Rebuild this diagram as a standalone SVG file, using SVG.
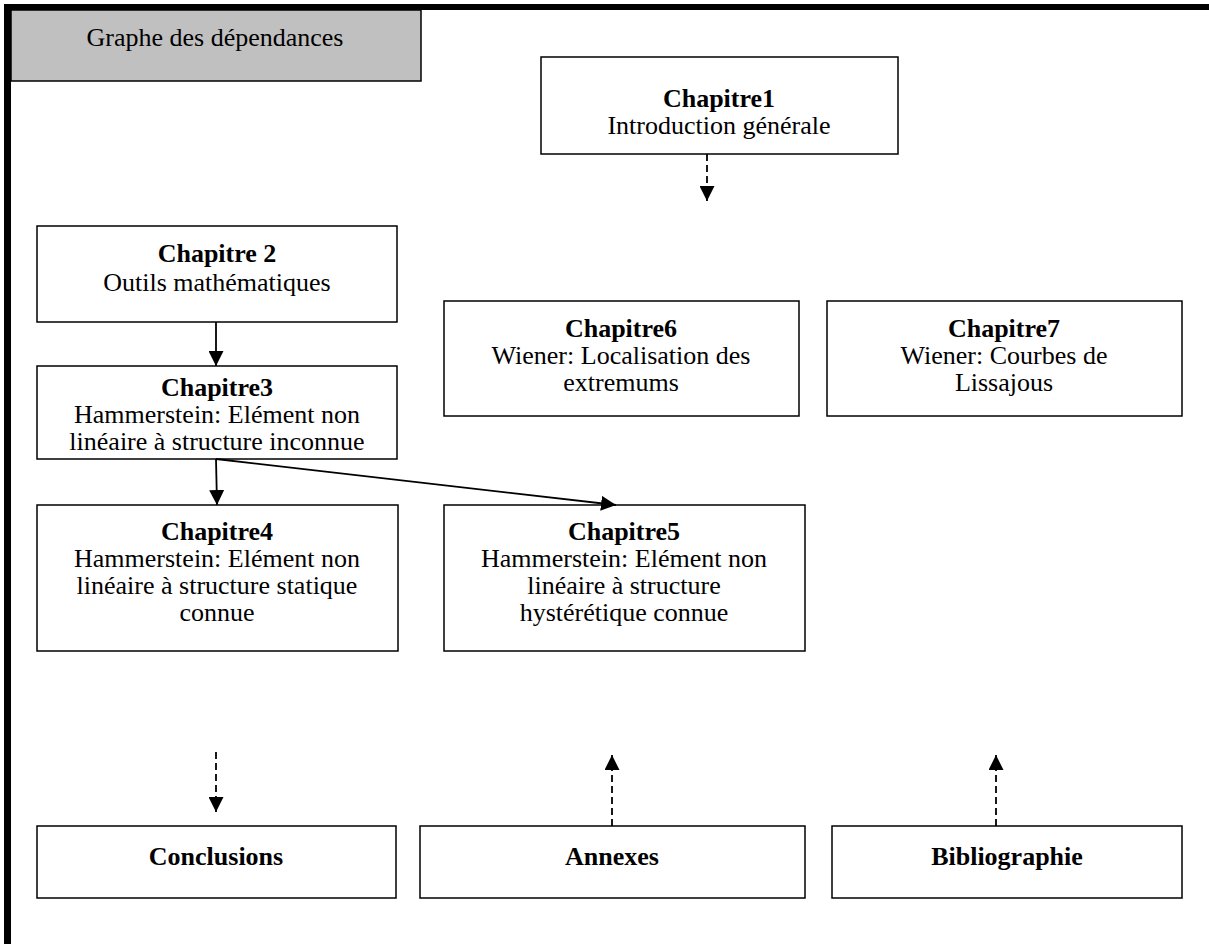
<svg xmlns="http://www.w3.org/2000/svg" width="1209" height="944" viewBox="0 0 1209 944">
<style>
.box{fill:#fff;stroke:#000;stroke-width:1.5}
.t{font-family:"Liberation Serif","Times New Roman",serif;font-size:26px;fill:#000;text-anchor:middle}
.b{font-weight:bold}
.c{stroke:#000;stroke-width:1.8;fill:none}
.d{stroke-dasharray:7 4}
</style>
<defs>
<marker id="ah" viewBox="0 0 10 10" refX="10" refY="5" markerWidth="15" markerHeight="15" markerUnits="userSpaceOnUse" orient="auto">
<path d="M0,0 L10,5 L0,10 z" fill="#000"/>
</marker>
</defs>
<rect x="0" y="0" width="1209" height="944" fill="#fff"/>
<g id="frame">
<rect x="4" y="4" width="1205" height="6" fill="#000"/>
<rect x="4" y="4" width="7" height="940" fill="#000"/>
</g>
<g id="tab">
<rect x="11" y="10" width="410" height="71" fill="#c0c0c0" stroke="#000" stroke-width="1.5"/>
<text class="t" x="215" y="46">Graphe des dépendances</text>
</g>
<g id="ch1">
<rect class="box" x="541" y="57" width="357" height="97"/>
<text class="t b" x="719" y="107">Chapitre1</text>
<text class="t" x="719" y="134">Introduction générale</text>
</g>
<g id="ch2">
<rect class="box" x="37" y="226" width="360" height="96"/>
<text class="t b" x="217" y="262">Chapitre 2</text>
<text class="t" x="217" y="291">Outils mathématiques</text>
</g>
<g id="ch6">
<rect class="box" x="444" y="301" width="355" height="115"/>
<text class="t b" x="621" y="337">Chapitre6</text>
<text class="t" x="621" y="364">Wiener: Localisation des</text>
<text class="t" x="621" y="391">extremums</text>
</g>
<g id="ch7">
<rect class="box" x="827" y="301" width="355" height="115"/>
<text class="t b" x="1004" y="337">Chapitre7</text>
<text class="t" x="1004" y="364">Wiener: Courbes de</text>
<text class="t" x="1004" y="391">Lissajous</text>
</g>
<g id="ch3">
<rect class="box" x="37" y="366" width="360" height="93"/>
<text class="t b" x="217" y="396">Chapitre3</text>
<text class="t" x="217" y="423">Hammerstein: Elément non</text>
<text class="t" x="217" y="450">linéaire à structure inconnue</text>
</g>
<g id="ch4">
<rect class="box" x="37" y="505" width="361" height="146"/>
<text class="t b" x="217" y="540">Chapitre4</text>
<text class="t" x="217" y="567">Hammerstein: Elément non</text>
<text class="t" x="217" y="594">linéaire à structure statique</text>
<text class="t" x="217" y="621">connue</text>
</g>
<g id="ch5">
<rect class="box" x="444" y="505" width="361" height="146"/>
<text class="t b" x="624" y="540">Chapitre5</text>
<text class="t" x="624" y="567">Hammerstein: Elément non</text>
<text class="t" x="624" y="594">linéaire à structure</text>
<text class="t" x="624" y="621">hystérétique connue</text>
</g>
<g id="conclusions">
<rect class="box" x="37" y="826" width="359" height="72"/>
<text class="t b" x="216" y="865">Conclusions</text>
</g>
<g id="annexes">
<rect class="box" x="420" y="826" width="385" height="72"/>
<text class="t b" x="612" y="865">Annexes</text>
</g>
<g id="bibliographie">
<rect class="box" x="832" y="826" width="350" height="72"/>
<text class="t b" x="1007" y="865">Bibliographie</text>
</g>
<g id="connectors">
<line class="c d" x1="707" y1="154" x2="707" y2="201" marker-end="url(#ah)"/>
<line class="c" x1="216" y1="322" x2="216" y2="366" marker-end="url(#ah)"/>
<line class="c" x1="216" y1="459" x2="217" y2="505" marker-end="url(#ah)"/>
<line class="c" x1="216" y1="459" x2="616" y2="505" marker-end="url(#ah)"/>
<line class="c d" x1="216" y1="752" x2="216" y2="812" marker-end="url(#ah)"/>
<line class="c d" x1="612" y1="826" x2="612" y2="755" marker-end="url(#ah)"/>
<line class="c d" x1="996" y1="826" x2="996" y2="755" marker-end="url(#ah)"/>
</g>
</svg>
